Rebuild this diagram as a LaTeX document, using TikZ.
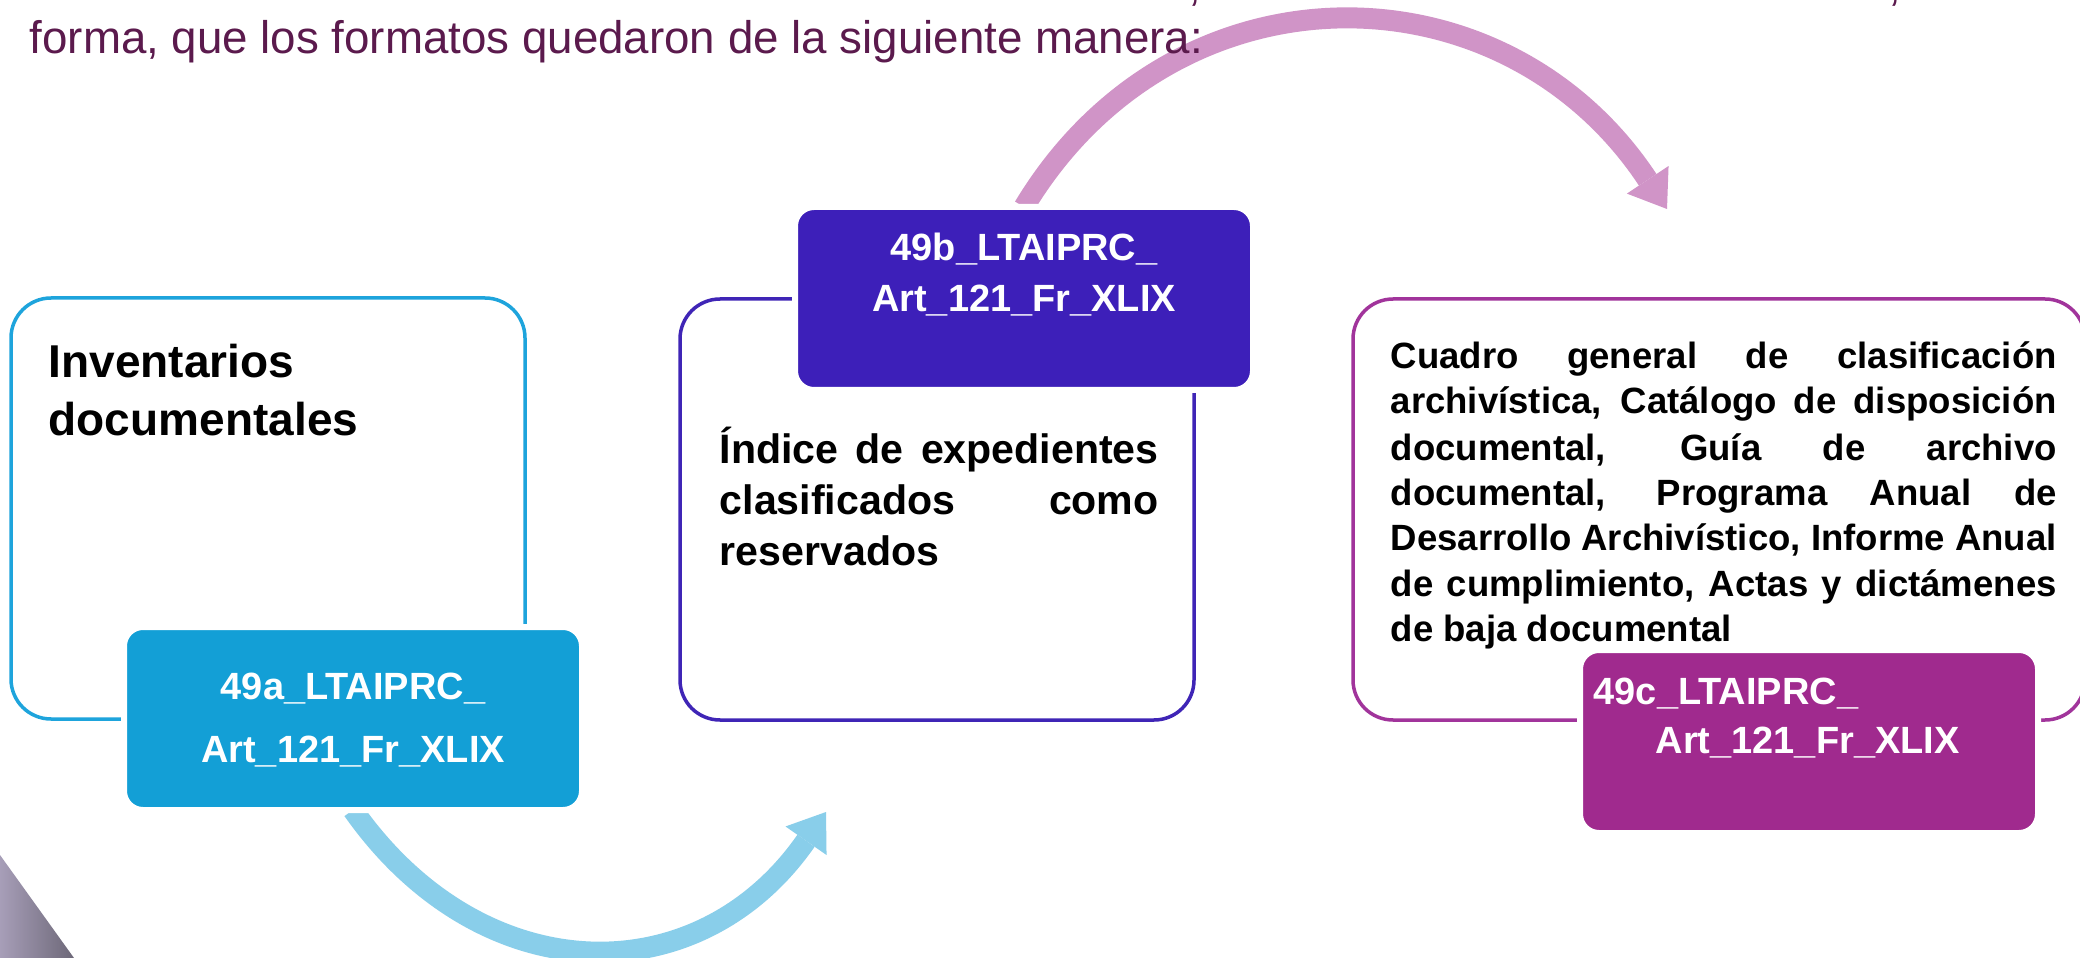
\documentclass[tikz,border=0pt]{standalone}
\usepackage{fontspec}
\setmainfont{Liberation Sans}
\usetikzlibrary{arrows.meta,backgrounds}

\definecolor{cyanline}{HTML}{1EA4DC}
\definecolor{cyanbox}{HTML}{139FD6}
\definecolor{indigoline}{HTML}{3F25B6}
\definecolor{indigobox}{HTML}{3D1FB9}
\definecolor{magline}{HTML}{A1349B}
\definecolor{magbox}{HTML}{A02A8E}
\definecolor{skyarrow}{HTML}{89CEEA}
\definecolor{pinkarrow}{HTML}{D094C7}
\definecolor{plum}{HTML}{5B1A4D}
\definecolor{greyL}{HTML}{A79EB8}
\definecolor{greyD}{HTML}{6D6878}

\begin{document}
\begin{tikzpicture}[x=0.1mm, y=-0.1mm,
    outbox/.style={draw=#1, line width=0.35mm, rounded corners=4mm, inner sep=0pt, outer sep=0pt,
      anchor=north west, minimum width=51.4mm, minimum height=42.1mm},
    tagbox/.style={fill=#1, draw=white, line width=0.6mm, rounded corners=1.9mm, inner sep=0pt, outer sep=0pt,
      anchor=north west, minimum width=45.8mm, minimum height=18.3mm},
    tagtext/.style={inner sep=0pt, text=white, font=\fontsize{10.8}{13}\selectfont\bfseries},
    bigtext/.style={anchor=base west, inner sep=0pt, font=\fontsize{13.1}{16}\selectfont\bfseries},
    midtext/.style={anchor=base west, inner sep=0pt, font=\fontsize{11.7}{14}\selectfont\bfseries},
    smalltext/.style={anchor=base west, inner sep=0pt, font=\fontsize{10.4}{12.5}\selectfont\bfseries},
    headtext/.style={inner sep=0pt, text=plum, font=\fontsize{13}{15}\selectfont},
    flow/.style={line width=2.1mm, color=#1, -{Triangle[length=3.5mm,width=5mm,line width=0pt]}}]
  \useasboundingbox (0,0) rectangle (2080,958);
  \clip (0,0) rectangle (2080,958);

  \node (hdr) [headtext, anchor=base west] at (29,54)
    {forma, que los formatos quedaron de la siguiente manera:};
  \node (cma) [headtext, anchor=base] at (1195,1) {,};
  \node (cmb) [headtext, anchor=base] at (1895,1) {,};

  % outlined boxes
  \node (outa) [outbox=cyanline] at (11,298) {};
  \node (outb) [outbox=indigoline] at (680,299) {};
  \node (outc) [outbox=magline, minimum width=73.2mm] at (1353,299) {};

  % coloured tags
  \node (boxa) [tagbox=cyanbox] at (124,627) {};
  \node (boxb) [tagbox=indigobox] at (795,207) {};
  \node (boxc) [tagbox=magbox] at (1580,650) {};

  \node (a1) [tagtext, anchor=base] at (353,699) {49a\_LTAIPRC\_};
  \node (a2) [tagtext, anchor=base] at (353,762) {Art\_121\_Fr\_XLIX};
  \node (b1) [tagtext, anchor=base] at (1024,261) {49b\_LTAIPRC\_};
  \node (b2) [tagtext, anchor=base] at (1024,312) {Art\_121\_Fr\_XLIX};
  \node (c1) [tagtext, anchor=base west] at (1593,704) {49c\_LTAIPRC\_};
  \node (c2) [tagtext, anchor=base west] at (1655,753) {Art\_121\_Fr\_XLIX};

  \node (inv1) [bigtext] at (48,378) {Inventarios};
  \node (inv2) [bigtext] at (48,435) {documentales};

  \node (ix1) [midtext] at (719,463) {\makebox[43.9mm][s]{Índice de expedientes}};
  \node (ix2) [midtext] at (719,514) {\makebox[43.9mm][s]{clasificados como}};
  \node (ix3) [midtext] at (719,565) {reservados};

  \node (cq1) [smalltext] at (1390,369) {\makebox[66.6mm][s]{Cuadro general de clasificación}};
  \node (cq2) [smalltext] at (1390,414) {\makebox[66.6mm][s]{archivística, Catálogo de disposición}};
  \node (cq3) [smalltext] at (1390,460) {\makebox[66.6mm][s]{documental, Guía de archivo}};
  \node (cq4) [smalltext] at (1390,505) {\makebox[66.6mm][s]{documental, Programa Anual de}};
  \node (cq5) [smalltext] at (1390,550) {\makebox[66.6mm][s]{Desarrollo Archivístico, Informe Anual}};
  \node (cq6) [smalltext] at (1390,596) {\makebox[66.6mm][s]{de cumplimiento, Actas y dictámenes}};
  \node (cq7) [smalltext] at (1390,641) {de baja documental};

  \coordinate (bluetip) at (826,812);
  \coordinate (pinktip) at (1667,209);

  \begin{scope}[on background layer]
    \fill [white] (0,0) rectangle (2080,958);
    \draw [flow=skyarrow] (boxa.south) .. controls (481,992) and (698,996) .. (bluetip);
    \draw [flow=pinkarrow] (boxb.north) .. controls (1174,-42) and (1503,-39) .. (pinktip);
    \shade [left color=greyL, right color=greyD] (0,855) -- (74,958) -- (0,958) -- cycle;
  \end{scope}
\end{tikzpicture}
\end{document}
